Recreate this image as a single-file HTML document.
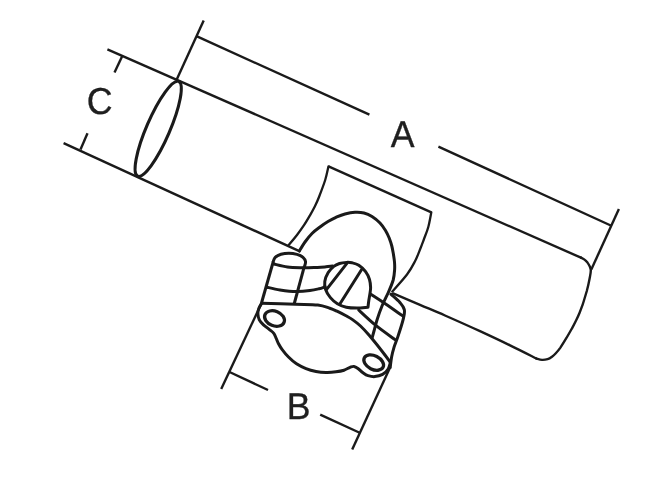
<!DOCTYPE html>
<html lang="en">
<head>
<meta charset="utf-8">
<title>Dimension drawing</title>
<style>
html,body{margin:0;padding:0;background:#fff;}
body{width:669px;height:488px;overflow:hidden;}
svg{display:block;will-change:transform;}
text{font-family:"Liberation Sans",Arial,Helvetica,sans-serif;fill:#1f1f1f;stroke:#1f1f1f;stroke-width:0.35;stroke-linejoin:round;text-rendering:geometricPrecision;}
</style>
</head>
<body>
<svg role="img" aria-label="Dimension drawing with labels A, B and C" width="669" height="488" viewBox="0 0 669 488">
<rect width="669" height="488" fill="#fff"/>
<g fill="none" stroke="#1a1a1a" stroke-linecap="round" stroke-linejoin="round">
<path d="M107.4 49.3L581.5 257.9" stroke-width="2.4" stroke-linecap="butt"/>
<path d="M581.0 257.6C581.6 257.9 583.4 258.8 584.5 259.6C585.6 260.4 586.6 261.5 587.5 262.6C588.4 263.8 589.2 265.2 589.8 266.5C590.3 267.8 590.8 268.8 590.8 270.5C590.8 272.2 590.4 274.3 590.0 276.5C589.6 278.7 589.1 281.1 588.6 283.5C588.1 285.9 587.4 288.6 586.8 291.0C586.1 293.4 585.4 295.6 584.7 298.0C584.0 300.4 583.3 302.8 582.4 305.3C581.5 307.8 580.5 310.6 579.5 313.0C578.5 315.4 577.5 317.6 576.3 320.0C575.1 322.4 574.1 324.6 572.4 327.6C570.7 330.6 568.3 334.9 566.3 338.2C564.3 341.5 562.1 345.1 560.4 347.6C558.6 350.1 557.2 351.8 555.8 353.3C554.4 354.8 553.4 355.8 552.0 356.8C550.6 357.8 549.3 358.7 547.6 359.2C545.9 359.7 543.9 360.0 542.0 359.9C540.1 359.8 537.2 358.7 536.3 358.5" stroke-width="2.4"/>
<path d="M63.6 143.1L300.4 251.7" stroke-width="2.4" stroke-linecap="butt"/>
<path d="M393.1 293.4C397.6 295.3 411.4 301.1 420.0 304.8C428.6 308.5 435.0 311.1 445.0 315.5C455.0 319.9 469.2 326.2 480.0 331.2C490.8 336.2 500.6 340.8 510.0 345.4C519.4 349.9 531.9 356.3 536.3 358.5" stroke-width="2.4"/>
<ellipse cx="158.2" cy="128.8" rx="11.6" ry="51.6" transform="rotate(23.4 158.2 128.8)" stroke-width="3.1"/>
<path d="M203.7 20.6L176.5 80.0" stroke-width="2.4" stroke-linecap="butt"/>
<path d="M197.0 36.4L369.4 114.7" stroke-width="2.4" stroke-linecap="butt"/>
<path d="M438.4 146.6L610.8 225.5" stroke-width="2.4" stroke-linecap="butt"/>
<path d="M618.9 209.0L591.3 269.5" stroke-width="2.4" stroke-linecap="butt"/>
<path d="M122.5 55.5L114.5 72.5" stroke-width="2.4" stroke-linecap="butt"/>
<path d="M87.5 133.3L80.5 149.5" stroke-width="2.4" stroke-linecap="butt"/>
<path d="M328.5 166.3L431.4 212.3" stroke-width="2.4" stroke-linecap="butt"/>
<path d="M328.5 166.3C327.9 168.6 326.8 174.8 325.2 180.0C323.6 185.2 320.5 193.1 318.8 197.5C317.1 201.9 316.3 203.5 314.8 206.5C313.3 209.5 311.8 212.2 310.0 215.3C308.2 218.4 306.2 221.9 304.0 225.2C301.8 228.5 299.5 231.7 297.0 235.0C294.5 238.3 290.2 243.2 288.8 244.8" stroke-width="2.3"/>
<path d="M431.3 212.3C430.8 214.8 429.5 222.6 428.3 227.0C427.1 231.4 425.3 235.5 424.0 239.0C422.7 242.5 422.1 244.3 420.6 248.0C419.1 251.7 417.3 256.9 415.0 261.3C412.7 265.7 410.8 269.5 407.0 274.5C403.2 279.5 394.8 288.7 392.3 291.5" stroke-width="2.3"/>
<path d="M299.4 251.0C300.3 249.5 302.9 244.9 305.0 242.0C307.1 239.1 309.5 236.0 312.0 233.5C314.5 231.0 317.3 229.0 320.0 227.0C322.7 225.0 325.3 223.1 328.0 221.5C330.7 219.9 333.2 218.6 336.0 217.3C338.8 216.1 341.8 214.8 345.0 214.0C348.2 213.2 351.8 212.5 355.0 212.3C358.2 212.1 361.2 212.3 364.0 213.0C366.8 213.7 369.3 214.8 372.0 216.5C374.7 218.2 377.8 220.7 380.0 223.0C382.2 225.3 384.0 228.0 385.5 230.5C387.0 233.0 388.1 235.4 389.2 238.0C390.2 240.6 391.1 243.3 391.8 246.0C392.5 248.7 392.9 251.3 393.4 254.0C393.8 256.7 394.3 259.3 394.5 262.0C394.7 264.7 394.8 267.0 394.6 270.0C394.4 273.0 394.2 276.2 393.2 280.0C392.1 283.8 390.2 288.2 388.3 292.5C386.4 296.8 383.9 301.4 382.0 306.0C380.1 310.6 378.3 315.8 377.0 320.0C375.7 324.2 374.8 328.1 374.0 331.0C373.2 333.9 372.5 336.5 372.2 337.6" stroke-width="3.0"/>
<path d="M261.5 303.0L273.3 261.5" stroke-width="3.0" stroke-linecap="butt"/>
<path d="M273.3 261.5C273.6 260.8 273.9 258.5 275.2 257.3C276.5 256.1 278.7 255.0 281.0 254.3C283.3 253.6 286.2 253.2 288.9 253.2C291.6 253.2 294.6 253.7 297.0 254.4C299.4 255.1 301.6 256.1 303.0 257.3C304.4 258.5 305.2 260.0 305.5 261.5C305.8 263.0 304.8 265.4 304.6 266.2" stroke-width="3.0"/>
<path d="M304.4 266.2L294.3 303.5" stroke-width="3.0" stroke-linecap="butt"/>
<path d="M274.0 264.0C276.2 264.5 282.7 266.4 287.4 267.0C292.1 267.6 297.4 267.6 302.4 267.7C307.4 267.8 313.5 267.5 317.4 267.4C321.3 267.2 323.5 267.0 326.0 266.8C328.5 266.6 331.4 266.1 332.5 266.0" stroke-width="3.0"/>
<path d="M267.2 287.2C269.3 287.7 275.1 289.3 280.0 290.0C284.9 290.7 291.4 291.5 296.4 291.6C301.4 291.7 306.1 291.1 309.9 290.6C313.7 290.1 316.5 289.4 319.0 288.8C321.5 288.2 324.0 287.1 325.0 286.8" stroke-width="3.0"/>
<path d="M261.7 303.2C267.3 303.4 286.0 303.9 295.4 304.2C304.8 304.5 312.1 304.3 317.8 305.0C323.5 305.7 326.6 307.2 329.8 308.2C333.0 309.2 334.3 309.9 337.0 311.2C339.7 312.5 343.4 314.4 346.0 315.8C348.6 317.2 350.1 317.9 352.5 319.6C354.9 321.3 357.6 323.3 360.5 326.0C363.4 328.7 365.7 331.2 369.6 335.8C373.5 340.4 380.4 349.1 383.8 353.5C387.2 357.9 389.2 360.8 390.3 362.2" stroke-width="3.0"/>
<path d="M368.0 307.2C368.1 306.1 368.5 302.7 368.8 300.5C369.1 298.3 369.6 296.1 369.9 293.9C370.2 291.7 370.7 289.8 370.6 287.4C370.5 285.0 370.3 282.1 369.5 279.5C368.7 276.9 367.4 274.1 365.6 271.7C363.8 269.3 361.1 266.8 358.8 265.3C356.5 263.8 354.1 263.3 352.0 262.8C349.9 262.3 348.6 262.3 346.5 262.4C344.4 262.5 341.6 262.8 339.5 263.5C337.4 264.2 335.7 264.9 333.8 266.4C331.9 267.9 329.7 270.1 328.2 272.6C326.7 275.1 325.2 278.7 324.8 281.5C324.4 284.3 324.7 286.8 325.6 289.5C326.5 292.2 328.4 295.2 330.4 297.6C332.4 300.0 334.8 302.2 337.4 303.8C340.0 305.4 343.0 306.5 346.3 307.2C349.6 307.9 353.4 308.0 357.0 308.0C360.6 308.0 366.2 307.3 368.0 307.2" stroke-width="3.0"/>
<path d="M346.9 263.3L326.4 289.6" stroke-width="3.0"/>
<path d="M361.5 269.8L339.7 304.3" stroke-width="3.0"/>
<path d="M370.7 294.2C372.8 295.6 378.0 298.9 383.4 302.5C388.8 306.1 399.6 313.7 402.9 315.9" stroke-width="3.0"/>
<path d="M358.7 310.0C361.4 312.5 369.1 319.9 375.2 324.9C381.3 329.9 392.0 337.4 395.4 339.9" stroke-width="3.0"/>
<path d="M390.9 294.2C392.4 295.6 397.6 299.9 399.9 302.5C402.1 305.1 403.9 307.0 404.4 310.0C404.9 313.0 404.0 315.9 402.9 320.4C401.8 324.9 399.3 332.4 397.8 336.9C396.3 341.4 395.0 344.0 394.0 347.4C393.0 350.8 392.2 353.6 391.6 357.0C391.0 360.4 390.4 365.8 390.2 367.5" stroke-width="3.0"/>
<path d="M261.5 303.5C261.1 304.3 259.4 306.8 258.8 308.5C258.2 310.2 257.8 312.1 257.9 314.0C258.0 315.9 258.4 318.0 259.3 319.8C260.2 321.6 261.8 323.2 263.5 324.8C265.2 326.4 267.8 328.2 269.5 329.6C271.2 331.0 272.7 331.9 273.8 333.4C274.9 334.8 275.4 336.6 276.2 338.3C277.0 340.0 277.4 341.6 278.4 343.5C279.4 345.4 280.5 347.4 282.2 349.6C283.9 351.9 286.1 354.6 288.5 357.0C290.9 359.4 293.6 361.9 296.5 363.8C299.4 365.7 302.8 367.3 306.0 368.6C309.2 369.9 312.7 370.8 316.0 371.4C319.3 372.0 322.7 372.3 326.0 372.4C329.3 372.5 333.0 372.2 336.0 371.8C339.0 371.4 341.7 370.9 344.0 370.2C346.3 369.5 348.3 368.0 350.0 367.4C351.7 366.8 352.6 366.2 354.0 366.4C355.4 366.6 356.8 367.7 358.3 368.8C359.8 369.9 361.4 371.7 363.0 372.8C364.6 373.9 366.0 375.0 368.0 375.6C370.0 376.2 372.4 376.8 374.8 376.6C377.2 376.4 380.4 375.6 382.6 374.4C384.8 373.2 386.7 371.2 388.0 369.2C389.3 367.2 390.0 363.6 390.4 362.5" stroke-width="3.0"/>
<ellipse cx="274.5" cy="318.5" rx="10.3" ry="7.3" transform="rotate(22 274.5 318.5)" stroke-width="3.3"/>
<ellipse cx="373.7" cy="362.6" rx="10.5" ry="6.8" transform="rotate(27 373.7 362.6)" stroke-width="3.3"/>
<path d="M261.4 303.5L221.2 389.0" stroke-width="2.4" stroke-linecap="butt"/>
<path d="M390.3 367.0L352.2 449.6" stroke-width="2.4" stroke-linecap="butt"/>
<path d="M229.5 372.0L268.0 390.0" stroke-width="2.4" stroke-linecap="butt"/>
<path d="M320.2 414.7L360.2 433.0" stroke-width="2.4" stroke-linecap="butt"/>
</g>
<g>
<text transform="translate(99.8 114.0) scale(0.955 1)" text-anchor="middle" font-size="37.5">C</text>
<text transform="translate(402.6 146.5) scale(0.955 1)" text-anchor="middle" font-size="37.3">A</text>
<text transform="translate(298.6 418.6) scale(0.955 1)" text-anchor="middle" font-size="37.3">B</text>
</g>
</svg>
</body>
</html>
